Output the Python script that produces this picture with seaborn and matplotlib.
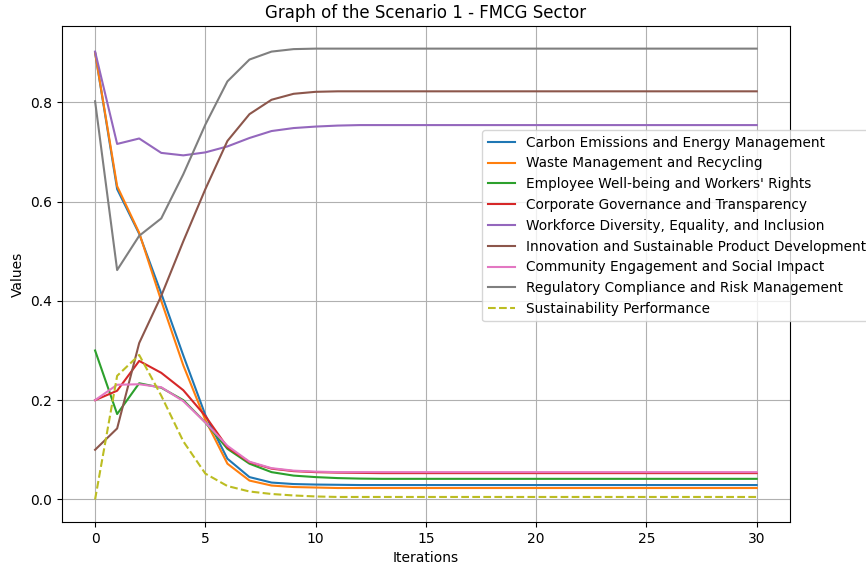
import matplotlib
matplotlib.use("Agg")
import matplotlib.pyplot as plt
import seaborn as sns
import pandas as pd

iterations = list(range(31))

carbon = [0.900, 0.625, 0.535, 0.415, 0.290, 0.170, 0.082, 0.045, 0.034, 0.031, 0.030,
          0.0295, 0.029, 0.029, 0.029, 0.029, 0.029, 0.029, 0.029, 0.029, 0.029,
          0.029, 0.029, 0.029, 0.029, 0.029, 0.029, 0.029, 0.029, 0.029, 0.029]
waste = [0.900, 0.631, 0.537, 0.400, 0.270, 0.160, 0.072, 0.038, 0.028, 0.025, 0.024,
         0.023, 0.023, 0.023, 0.023, 0.023, 0.023, 0.023, 0.023, 0.023, 0.023,
         0.023, 0.023, 0.023, 0.023, 0.023, 0.023, 0.023, 0.023, 0.023, 0.023]
employee = [0.300, 0.172, 0.234, 0.225, 0.200, 0.155, 0.102, 0.072, 0.055, 0.048, 0.045,
            0.043, 0.042, 0.0415, 0.0415, 0.0415, 0.0415, 0.0415, 0.0415, 0.0415, 0.0415,
            0.0415, 0.0415, 0.0415, 0.0415, 0.0415, 0.0415, 0.0415, 0.0415, 0.0415, 0.0415]
governance = [0.200, 0.219, 0.279, 0.255, 0.220, 0.168, 0.105, 0.075, 0.062, 0.057, 0.055,
              0.054, 0.0535, 0.053, 0.053, 0.053, 0.053, 0.053, 0.053, 0.053, 0.053,
              0.053, 0.053, 0.053, 0.053, 0.053, 0.053, 0.053, 0.053, 0.053, 0.053]
diversity = [0.902, 0.716, 0.727, 0.698, 0.693, 0.699, 0.711, 0.728, 0.742, 0.748, 0.751,
             0.753, 0.754, 0.754, 0.754, 0.754, 0.754, 0.754, 0.754, 0.754, 0.754,
             0.754, 0.754, 0.754, 0.754, 0.754, 0.754, 0.754, 0.754, 0.754, 0.754]
innovation = [0.100, 0.143, 0.315, 0.410, 0.520, 0.625, 0.722, 0.776, 0.805, 0.817, 0.821,
              0.822, 0.822, 0.822, 0.822, 0.822, 0.822, 0.822, 0.822, 0.822, 0.822,
              0.822, 0.822, 0.822, 0.822, 0.822, 0.822, 0.822, 0.822, 0.822, 0.822]
community = [0.200, 0.231, 0.232, 0.226, 0.198, 0.155, 0.108, 0.076, 0.063, 0.058, 0.056,
             0.055, 0.055, 0.055, 0.055, 0.055, 0.055, 0.055, 0.055, 0.055, 0.055,
             0.055, 0.055, 0.055, 0.055, 0.055, 0.055, 0.055, 0.055, 0.055, 0.055]
regulatory = [0.802, 0.462, 0.531, 0.566, 0.655, 0.755, 0.842, 0.886, 0.902, 0.907, 0.908,
              0.908, 0.908, 0.908, 0.908, 0.908, 0.908, 0.908, 0.908, 0.908, 0.908,
              0.908, 0.908, 0.908, 0.908, 0.908, 0.908, 0.908, 0.908, 0.908, 0.908]
sustainability = [0.000, 0.249, 0.291, 0.209, 0.117, 0.052, 0.027, 0.016, 0.011, 0.008, 0.006,
                  0.005, 0.005, 0.005, 0.005, 0.005, 0.005, 0.005, 0.005, 0.005, 0.005,
                  0.005, 0.005, 0.005, 0.005, 0.005, 0.005, 0.005, 0.005, 0.005, 0.005]

series_names = [
    "Carbon Emissions and Energy Management",
    "Waste Management and Recycling",
    "Employee Well-being and Workers' Rights",
    "Corporate Governance and Transparency",
    "Workforce Diversity, Equality, and Inclusion",
    "Innovation and Sustainable Product Development",
    "Community Engagement and Social Impact",
    "Regulatory Compliance and Risk Management",
]
series_values = [carbon, waste, employee, governance, diversity,
                 innovation, community, regulatory]
colors = ["#1f77b4", "#ff7f0e", "#2ca02c", "#d62728", "#9467bd",
          "#8c564b", "#e377c2", "#7f7f7f"]

fig = plt.figure(figsize=(8.66, 5.67), dpi=100)
ax = fig.add_axes([0.0716, 0.0794, 0.8404, 0.8746])

for name, vals, c in zip(series_names, series_values, colors):
    df = pd.DataFrame({"Iterations": iterations, "Values": vals})
    sns.lineplot(data=df, x="Iterations", y="Values", ax=ax, color=c,
                 label=name, linewidth=1.5)

df = pd.DataFrame({"Iterations": iterations, "Values": sustainability})
sns.lineplot(data=df, x="Iterations", y="Values", ax=ax, color="#bcbd22",
             linestyle="--", label="Sustainability Performance", linewidth=1.5)

ax.set_title("Graph of the Scenario 1 - FMCG Sector", fontsize=12)
ax.set_xlabel("Iterations", fontsize=10)
ax.set_ylabel("Values", fontsize=10)
ax.set_xticks([0, 5, 10, 15, 20, 25, 30])
ax.set_yticks([0.0, 0.2, 0.4, 0.6, 0.8])
ax.grid(True)
ax.legend(loc="upper left", bbox_to_anchor=(0.568, 0.804), fontsize=9.8,
          framealpha=0.8)

fig.savefig("out.png", dpi=100)
